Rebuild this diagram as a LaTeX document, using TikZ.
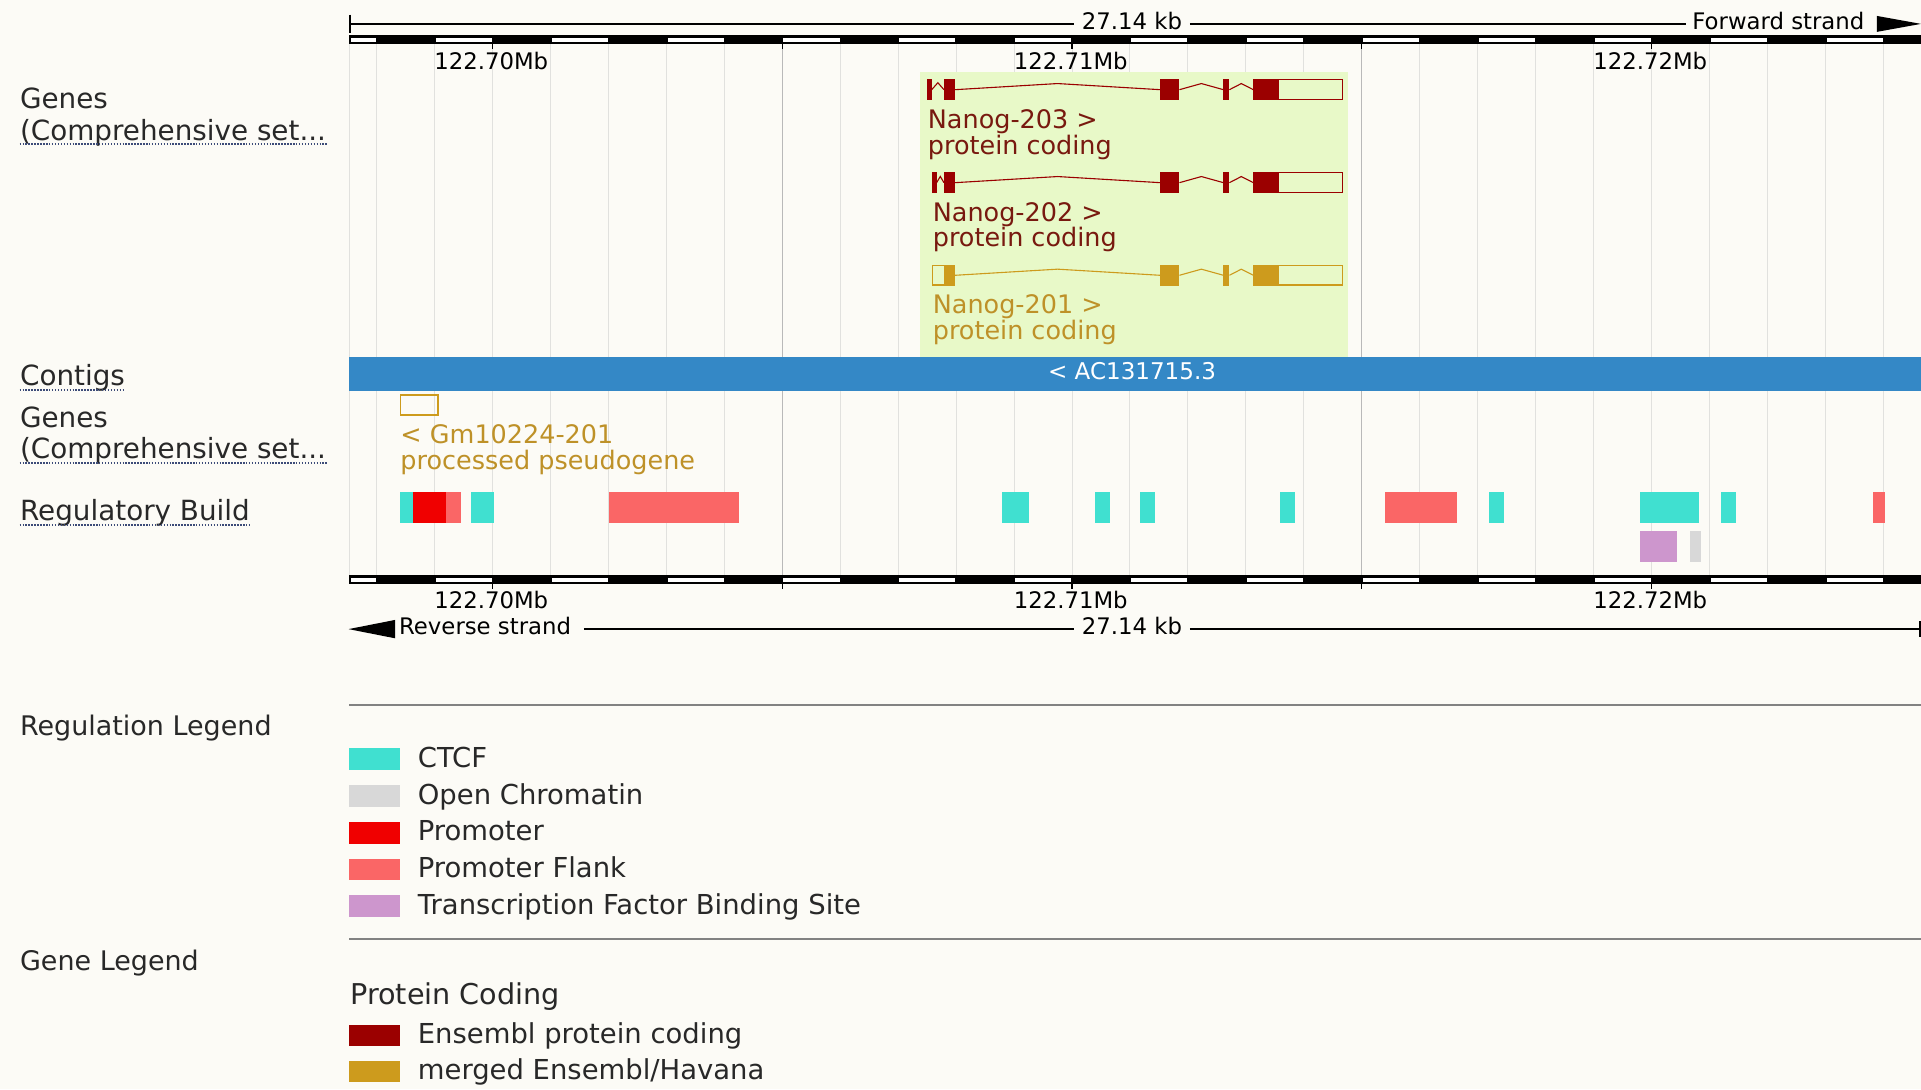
\documentclass[tikz,border=0pt]{standalone}
\usepackage{fontspec}
\setmainfont{DejaVu Sans}
\definecolor{bgc}{RGB}{252,251,246}
\definecolor{gridc}{RGB}{225,225,222}
\definecolor{gridd}{RGB}{185,185,185}
\definecolor{greenc}{RGB}{232,249,200}
\definecolor{contigc}{RGB}{52,136,198}
\definecolor{ensred}{RGB}{155,0,0}
\definecolor{ensgold}{RGB}{205,155,29}
\definecolor{redtxt}{RGB}{120,25,15}
\definecolor{goldtxt}{RGB}{190,145,40}
\definecolor{ctcfc}{RGB}{64,224,208}
\definecolor{openc}{RGB}{216,216,216}
\definecolor{promc}{RGB}{240,0,0}
\definecolor{flankc}{RGB}{250,102,102}
\definecolor{tfbsc}{RGB}{205,150,205}
\definecolor{labc}{RGB}{40,40,40}
\definecolor{ulc}{RGB}{60,75,120}
\definecolor{legl}{RGB}{130,130,130}
\begin{document}
\begin{tikzpicture}[x=0.5pt,y=-0.5pt,
  lab/.style={inner sep=0pt,anchor=base west,text=labc,font=\fontsize{11.35pt}{13pt}\selectfont},
  ttl/.style={inner sep=0pt,anchor=base west,text=labc,font=\fontsize{11pt}{13pt}\selectfont},
  rul/.style={inner sep=0pt,anchor=base,text=black,font=\fontsize{9.3pt}{11pt}\selectfont},
  glab/.style={inner sep=0pt,anchor=base west,font=\fontsize{10.4pt}{12pt}\selectfont},
  legt/.style={inner sep=0pt,anchor=base west,text=labc,font=\fontsize{11.2pt}{13pt}\selectfont},
  ul/.style={draw=ulc,line width=0.55pt,dash pattern=on 0.6pt off 0.6pt},
  gridl/.style={draw=gridc,line width=0.4pt},
  gridk/.style={draw=gridd,line width=0.4pt},
  scl/.style={draw=black,line width=0.6pt},
  intr/.style={line width=0.45pt},
  legline/.style={draw=legl,line width=0.7pt}]
\fill[bgc] (0,0) rectangle (1568,889);
\useasboundingbox (0,0) rectangle (1568,889);

% grid lines
\draw[gridl] (285.3,36) -- (285.3,469.5);
\foreach \k in {-2,...,24}{\draw[gridl] ({402+47.3*\k},36) -- ({402+47.3*\k},469.5);}
\draw[gridk] (638.5,36) -- (638.5,469.5);
\draw[gridk] (1111.5,36) -- (1111.5,469.5);

% highlight
\fill[greenc] (751,58.5) rectangle (1100.6,291.7);

% top scale line
\coordinate (tl) at (285.5,19.5);
\node[rul] (tkb) at (924,24) {27.14 kb};
\node[rul,anchor=base west] (fwd) at (1381,24) {Forward strand};
\draw[scl] (285.5,12) -- (285.5,27);
\draw[scl] (tl) -- ([xshift=-3pt]tl -| tkb.west);
\draw[scl] ([xshift=3pt]tl -| tkb.east) -- ([xshift=-2.5pt]tl -| fwd.west);
\fill[black] (1532,13) -- (1568,19.5) -- (1532,26) -- cycle;

% rulers
\foreach \ry in {28.8,469.5}{
  \fill[black] (285,\ry) rectangle (1568,\ry+7.2);
  \foreach \j in {-1,...,12}{
    \fill[white] ({max(286.5,402+47.3*(2*\j-1)+1)},\ry+1.9) rectangle ({402+47.3*2*\j-0.5},\ry+5.3);
  }
  \foreach \t in {402,638.5,875,1111.5,1348}{\draw[black,line width=0.5pt] (\t,\ry+7.2) -- (\t,\ry+11.5);}
}
\node[rul] (t70) at (401,57) {122.70Mb};
\node[rul] (t71) at (874,57) {122.71Mb};
\node[rul] (t72) at (1347,57) {122.72Mb};
\node[rul] (b70) at (401,496.6) {122.70Mb};
\node[rul] (b71) at (874,496.6) {122.71Mb};
\node[rul] (b72) at (1347,496.6) {122.72Mb};

% bottom scale line
\coordinate (br) at (1567.3,513.5);
\fill[black] (284.5,513.5) -- (322.5,506) -- (322.5,521) -- cycle;
\node[rul,anchor=base west] (rev) at (325.4,518.3) {Reverse strand};
\node[rul] (bkb) at (924,518.3) {27.14 kb};
\draw[scl] ([xshift=5pt]br -| rev.east) -- ([xshift=-3pt]br -| bkb.west);
\draw[scl] ([xshift=3pt]br -| bkb.east) -- (br);
\draw[scl] (1567.3,507) -- (1567.3,520);

% contig
\fill[contigc] (285,291.7) rectangle (1568,319.2);
\node[inner sep=0pt,anchor=base,text=white,font=\fontsize{9.4pt}{11pt}\selectfont] (ctg) at (924,309.5) {< AC131715.3};

% transcripts
\foreach \cy/\col in {73.2/ensred,149.1/ensred,224.7/ensgold}{
  \draw[intr,\col] (779.5,\cy) -- (863.2,\cy-5) -- (947,\cy);
  \draw[intr,\col] (962.7,\cy) -- (980.6,\cy-5) -- (998.6,\cy);
  \draw[intr,\col] (1003.5,\cy) -- (1013.2,\cy-5) -- (1023,\cy);
  \fill[\col] (947,\cy-8.4) rectangle (962.7,\cy+8.4);
  \fill[\col] (998.6,\cy-8.4) rectangle (1003.5,\cy+8.4);
  \fill[\col] (1023,\cy-8.4) rectangle (1044.3,\cy+8.4);
  \draw[\col,line width=0.6pt] (1023,\cy-8.1) rectangle (1096,\cy+8.1);
  \fill[\col] (770.5,\cy-8.4) rectangle (779.5,\cy+8.4);
}
\fill[ensred] (756.5,64.8) rectangle (760.5,81.6);
\draw[intr,ensred] (760.5,73.2) -- (765.5,67.5) -- (770.5,73.2);
\fill[ensred] (760.5,140.7) rectangle (764.5,157.5);
\draw[intr,ensred] (764.5,149.1) -- (767.5,144) -- (770.5,149.1);
\draw[ensgold,line width=0.6pt] (761,216.6) rectangle (771,232.8);

\node[glab,text=redtxt] (n203) at (757,104.7) {Nanog-203 >};
\node[glab,text=redtxt] (p203) at (757,126.5) {protein coding};
\node[glab,text=redtxt] (n202) at (761,181) {Nanog-202 >};
\node[glab,text=redtxt] (p202) at (761,201.4) {protein coding};
\node[glab,text=goldtxt] (n201) at (761,255.8) {Nanog-201 >};
\node[glab,text=goldtxt] (p201) at (761,277.5) {protein coding};

% pseudogene
\draw[ensgold,line width=0.6pt] (326.7,322.6) rectangle (357.5,338.6);
\node[glab,text=goldtxt] (gm) at (326.5,361.9) {< Gm10224-201};
\node[glab,text=goldtxt] (gmp) at (326.5,383.6) {processed pseudogene};

% regulatory build
\foreach \a/\b/\col in {326.7/337.1/ctcfc,337.1/364.2/promc,364.2/376.3/flankc,384.2/403.3/ctcfc,
  497.1/602.9/flankc,817.9/840/ctcfc,893.4/905.8/ctcfc,930.9/942.6/ctcfc,1044.7/1056.8/ctcfc,
  1130.2/1189.4/flankc,1215.7/1227.8/ctcfc,1338.7/1386.7/ctcfc,1404.6/1416.7/ctcfc,1528.5/1538.5/flankc}{
  \fill[\col] (\a,401.3) rectangle (\b,427.2);
}
\fill[tfbsc] (1338.7,433.2) rectangle (1368.7,459);
\fill[openc] (1379.2,433.2) rectangle (1388.8,459);

% left labels
\node[lab] (lg1) at (16,88.4) {Genes};
\node[lab] (lc1) at (16,114.3) {(Comprehensive set...};
\draw[ul] ([yshift=-1.6pt]lc1.base west) -- ([yshift=-1.6pt]lc1.base east);
\node[lab] (lct) at (16,314.3) {Contigs};
\draw[ul] ([yshift=-2pt]lct.base west) -- ([yshift=-2pt]lct.base east);
\node[lab] (lg2) at (16,348.8) {Genes};
\node[lab] (lc2) at (16,374.6) {(Comprehensive set...};
\draw[ul] ([yshift=-1.6pt]lc2.base west) -- ([yshift=-1.6pt]lc2.base east);
\node[lab] (lrb) at (16,424.5) {Regulatory Build};
\draw[ul] ([yshift=-2pt]lrb.base west) -- ([yshift=-2pt]lrb.base east);

% legends
\draw[legline] (285,575.5) -- (1568,575.5);
\draw[legline] (285,766.7) -- (1568,766.7);
\node[ttl] (rl) at (16,600) {Regulation Legend};
\node[ttl] (gl) at (16,791.8) {Gene Legend};
\foreach \yy/\col/\nm/\txt in {610.8/ctcfc/l1/CTCF,640.8/openc/l2/Open Chromatin,670.8/promc/l3/Promoter,
  700.8/flankc/l4/Promoter Flank,730.8/tfbsc/l5/Transcription Factor Binding Site}{
  \fill[\col] (285,\yy) rectangle (326.6,\yy+17.7);
  \node[legt] (\nm) at (340.7,\yy+15.5) {\txt};
}
\node[inner sep=0pt,anchor=base west,text=labc,font=\fontsize{11.7pt}{13pt}\selectfont] (pc) at (285.5,820.3) {Protein Coding};
\fill[ensred] (285,836.7) rectangle (326.6,854);
\node[legt] (le1) at (340.7,851.8) {Ensembl protein coding};
\fill[ensgold] (285,866.2) rectangle (326.6,883.5);
\node[legt] (le2) at (340.7,881.3) {merged Ensembl/Havana};
\end{tikzpicture}
\end{document}
